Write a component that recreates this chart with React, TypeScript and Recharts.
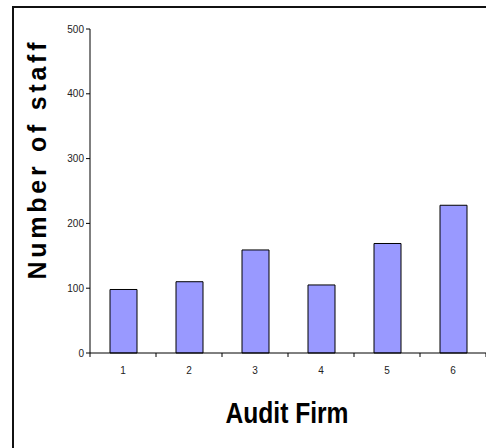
import React from 'react';
import { BarChart, Bar, XAxis, YAxis, Label } from 'recharts';

const firms = ['1', '2', '3', '4', '5', '6'];
const staff = [98, 110, 159, 105, 169, 228];
const yTicks = [0, 100, 200, 300, 400, 500];

const data = firms.map((firm, i) => ({ firm, staff: staff[i] }));

const W = 486;
const H = 448;
const LEFT = 90;
const band = (W - LEFT) / firms.length;

// category axis: label at the centre, tick marks on the category boundaries
function FirmTick(props: any) {
  const { x, y, payload, index } = props;
  const left = x - band / 2;
  return (
    <g>
      {index === 0 && <line x1={left} y1={y - 8} x2={left} y2={y - 4} stroke="#000" />}
      <line x1={left + band} y1={y - 8} x2={left + band} y2={y - 4} stroke="#000" />
      <text x={x} y={y + 13} textAnchor="middle" fontSize={10} fill="#222" fontFamily="Liberation Sans, Arial, sans-serif">
        {payload.value}
      </text>
    </g>
  );
}

export default function App() {
  return (
    <div style={{ position: 'absolute', left: 0, top: 0, width: W, height: H, overflow: 'hidden', background: '#fff' }}>
      <div
        style={{
          position: 'absolute',
          left: 12,
          top: 6,
          width: 500,
          height: 500,
          borderLeft: '2px solid #111',
          borderTop: '2px solid #111',
        }}
      />
      <div style={{ position: 'absolute', left: 0, top: 0 }}>
        <BarChart width={W} height={H} data={data} margin={{ top: 29, right: 0, bottom: 65, left: 0 }}>
          <XAxis
            dataKey="firm"
            height={30}
            axisLine={{ stroke: '#000' }}
            tickLine={false}
            tick={<FirmTick />}
            interval={0}
          >
            <Label
              content={() => (
                <text
                  x={287}
                  y={423}
                  textAnchor="middle"
                  fontSize={30}
                  fontWeight="bold"
                  fill="#000"
                  textLength={123}
                  lengthAdjust="spacingAndGlyphs"
                  fontFamily="Liberation Sans, Arial, sans-serif"
                >
                  Audit Firm
                </text>
              )}
            />
          </XAxis>
          <YAxis
            width={LEFT}
            domain={[0, 500]}
            ticks={yTicks}
            interval={0}
            axisLine={{ stroke: '#000' }}
            tickLine={{ stroke: '#000' }}
            tickSize={4}
            tick={{ fontSize: 10, fill: '#222', fontFamily: 'Liberation Sans, Arial, sans-serif' }}
          >
            <Label
              content={() => (
                <text
                  x={46}
                  y={161}
                  transform="rotate(-90 46 161)"
                  textAnchor="middle"
                  fontSize={25}
                  fontWeight="bold"
                  fill="#000"
                  textLength={237}
                  lengthAdjust="spacing"
                  fontFamily="Liberation Sans, Arial, sans-serif"
                >
                  Number of staff
                </text>
              )}
            />
          </YAxis>
          <Bar dataKey="staff" fill="#9999ff" stroke="#000" strokeWidth={1} barSize={27} isAnimationActive={false} />
        </BarChart>
      </div>
    </div>
  );
}
